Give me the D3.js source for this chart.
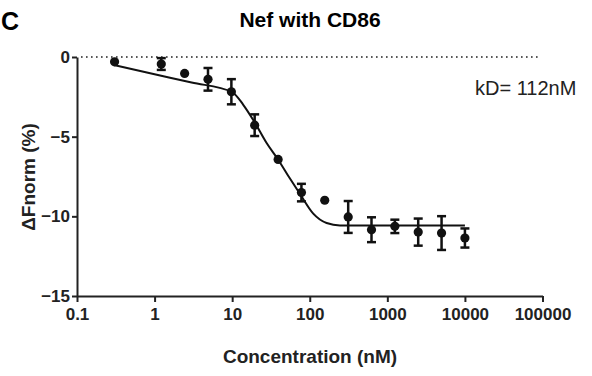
<!DOCTYPE html>
<html>
<head>
<meta charset="utf-8">
<script src="https://cdn.jsdelivr.net/npm/d3@7"></script>
<style>
  body { margin: 0; background: #fff; }
  svg { display: block; font-family: "Liberation Sans", Arial, sans-serif; }
</style>
</head>
<body>
<div class="chart"></div>
<script>
// concentrations (nM) and measured dFnorm (%) with error bars
const conc  = [0.305, 1.22, 2.44, 4.88, 9.77, 19.5, 39.1, 78.1, 156, 313, 625, 1250, 2500, 5000, 10000];
const fnorm = [-0.30, -0.44, -1.03, -1.40, -2.18, -4.28, -6.43, -8.51, -8.99, -10.04, -10.84, -10.63, -10.99, -11.05, -11.36];
const errs  = [0, 0.37, 0, 0.71, 0.79, 0.68, 0, 0.55, 0, 1.0, 0.78, 0.42, 0.85, 1.06, 0.6];

// fitted curve
const fitX = [0.3, 1, 3, 10, 13.9, 19.5, 27.8, 39, 55.6, 75, 111, 165, 245, 10000];
const fitY = [-0.5, -1.08, -1.6, -2.2, -3.0, -4.1, -5.4, -6.43, -7.63, -8.6, -9.83, -10.42, -10.57, -10.57];

const xTicks = [0.1, 1, 10, 100, 1000, 10000, 100000];
const xLabels = ["0.1", "1", "10", "100", "1000", "10000", "100000"];
const yTicks = [0, -5, -10, -15];

const width = 592, height = 376;
const margin = {top: 57, right: 50, bottom: 80, left: 77};

const svg = d3.select("div.chart").append("svg")
    .attr("width", width)
    .attr("height", height);

const x = d3.scaleLog()
    .domain([0.1, 100000])
    .range([margin.left, 542.5]);

const y = d3.scaleLinear()
    .domain([-15, 0])
    .range([296, margin.top]);

const data = conc.map((c, i) => ({conc: c, val: fnorm[i], err: errs[i]}));
const fit = fitX.map((c, i) => ({conc: c, val: fitY[i]}));

// panel letter + title
svg.append("text")
    .attr("x", 1).attr("y", 30)
    .attr("font-size", 25).attr("font-weight", "bold")
    .text("C");

svg.append("text")
    .attr("x", 310).attr("y", 27)
    .attr("text-anchor", "middle")
    .attr("font-size", 21).attr("font-weight", "bold")
    .text("Nef with CD86");

// dotted zero line
svg.append("line")
    .attr("x1", x(0.1) + 4).attr("x2", 538)
    .attr("y1", y(0)).attr("y2", y(0))
    .attr("stroke", "#222")
    .attr("stroke-width", 1.6)
    .attr("stroke-dasharray", "1.6,3.4");

// axes
const xAxis = svg.append("g")
    .attr("transform", "translate(0," + y(-15) + ")")
    .call(d3.axisBottom(x)
      .tickValues(xTicks)
      .tickFormat((d, i) => xLabels[i])
      .tickSize(6)
      .tickSizeOuter(0)
      .tickPadding(6));

const yAxis = svg.append("g")
    .attr("transform", "translate(" + x(0.1) + ",0)")
    .call(d3.axisLeft(y)
      .tickValues(yTicks)
      .tickFormat(d3.format("d"))
      .tickSize(5)
      .tickSizeOuter(0)
      .tickPadding(2));

[xAxis, yAxis].forEach(ax => {
  ax.select(".domain").attr("stroke", "#222").attr("stroke-width", 2);
  ax.selectAll(".tick line").attr("stroke", "#222").attr("stroke-width", 2);
  ax.selectAll(".tick text")
    .attr("fill", "#222")
    .attr("font-size", 17)
    .attr("font-weight", "bold")
    .attr("font-family", "'Liberation Sans', Arial, sans-serif");
});

// axis titles
svg.append("text")
    .attr("x", 310).attr("y", 363)
    .attr("text-anchor", "middle")
    .attr("font-size", 19).attr("font-weight", "bold")
    .attr("fill", "#222")
    .text("Concentration (nM)");

svg.append("text")
    .attr("transform", "translate(35,177) rotate(-90)")
    .attr("text-anchor", "middle")
    .attr("font-size", 19).attr("font-weight", "bold")
    .attr("fill", "#222")
    .text("\u0394Fnorm (%)");

// fitted curve
const line = d3.line()
    .x(d => x(d.conc))
    .y(d => y(d.val))
    .curve(d3.curveMonotoneX);

svg.append("path")
    .datum(fit)
    .attr("fill", "none")
    .attr("stroke", "#111")
    .attr("stroke-width", 2)
    .attr("d", line);

// error bars
const eb = svg.selectAll(".err")
    .data(data.filter(d => d.err > 0))
  .enter().append("g")
    .attr("class", "err")
    .attr("stroke", "#111")
    .attr("stroke-width", 2.5);

eb.append("line")
    .attr("x1", d => x(d.conc)).attr("x2", d => x(d.conc))
    .attr("y1", d => y(d.val - d.err)).attr("y2", d => y(d.val + d.err));
eb.append("line")
    .attr("x1", d => x(d.conc) - 4.5).attr("x2", d => x(d.conc) + 4.5)
    .attr("y1", d => y(d.val - d.err)).attr("y2", d => y(d.val - d.err));
eb.append("line")
    .attr("x1", d => x(d.conc) - 4.5).attr("x2", d => x(d.conc) + 4.5)
    .attr("y1", d => y(d.val + d.err)).attr("y2", d => y(d.val + d.err));

// points
svg.selectAll(".dot")
    .data(data)
  .enter().append("circle")
    .attr("class", "dot")
    .attr("fill", "#111")
    .attr("r", 4.6)
    .attr("cx", d => x(d.conc))
    .attr("cy", d => y(d.val));

// kD annotation
svg.append("text")
    .attr("x", 475).attr("y", 95)
    .attr("font-size", 20)
    .attr("fill", "#222")
    .text("kD= 112nM");
</script>
</body>
</html>
